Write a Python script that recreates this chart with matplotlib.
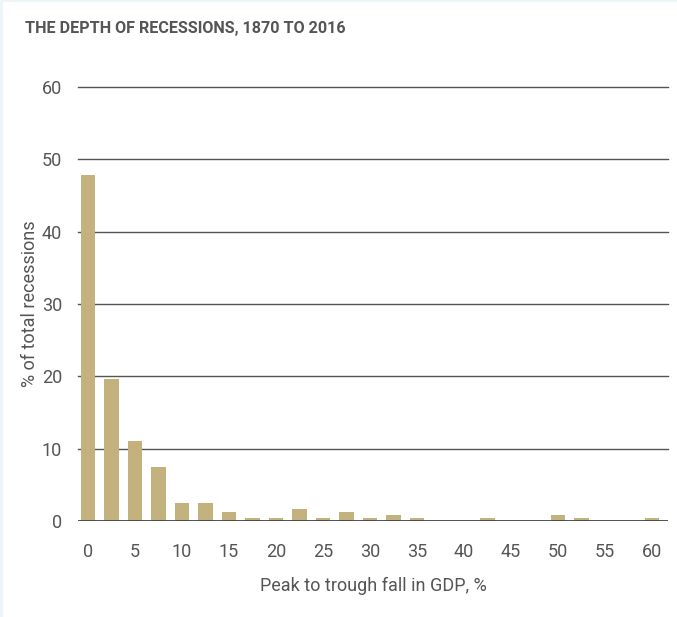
import numpy as np
import matplotlib.pyplot as plt
from matplotlib.patches import Rectangle

# peak-to-trough fall in GDP (bin start, %) and share of recessions (%)
depth = [0, 2.5, 5, 7.5, 10, 12.5, 15, 17.5, 20, 22.5, 25, 27.5, 30, 32.5,
         35, 37.5, 40, 42.5, 45, 47.5, 50, 52.5, 55, 57.5, 60]
share = [47.8, 19.7, 11.1, 7.4, 2.5, 2.5, 1.2, 0.4, 0.4, 1.6, 0.4, 1.2, 0.4, 0.8,
         0.4, 0.0, 0.0, 0.4, 0.0, 0.0, 0.8, 0.4, 0.0, 0.0, 0.4]
xticks = [0, 5, 10, 15, 20, 25, 30, 35, 40, 45, 50, 55, 60]
yticks = [0, 10, 20, 30, 40, 50, 60]

BAR = '#c4b27e'
TXT = '#555555'

plt.rcParams['font.family'] = ['Roboto', 'DejaVu Sans']

fig = plt.figure(figsize=(6.77, 6.17), dpi=100)
fig.patch.set_facecolor('#eef5f9')
fig.patches.append(Rectangle((3 / 677, 0), 1, 1 - 2 / 617, transform=fig.transFigure,
                             facecolor='white', edgecolor='none', zorder=-5))

ax = fig.add_axes([78 / 677, 1 - 521 / 617, 590 / 677, 434 / 617])
ax.set_facecolor('none')
ax.bar(depth, share, width=1.55, color=BAR, zorder=2)

ax.set_xlim(-1.06, 61.7)
ax.set_ylim(0, 60)
ax.set_xticks(xticks)
ax.set_yticks(yticks)
ax.tick_params(length=0, labelsize=13, colors=TXT)
ax.tick_params(axis='x', pad=15.5)
ax.tick_params(axis='y', pad=11.5)
for s in ax.spines.values():
    s.set_visible(False)
for y in yticks[1:]:
    ax.axhline(y, color='#555555', lw=1.0, zorder=1, clip_on=False)
ax.axhline(0, color='#444444', lw=1.3, zorder=3)

ax.set_ylabel('% of total recessions', fontsize=13, color=TXT, labelpad=2)
ax.set_xlabel('Peak to trough fall in GDP, %', fontsize=13, color=TXT, labelpad=12)

fig.text(25 / 677, 1 - 28.5 / 617, 'THE DEPTH OF RECESSIONS, 1870 TO 2016',
         fontsize=11.6, fontweight='bold', color=TXT,
         va='center', ha='left', family=['Roboto', 'DejaVu Sans'])

fig.savefig('out.png', dpi=100, facecolor=fig.get_facecolor())
